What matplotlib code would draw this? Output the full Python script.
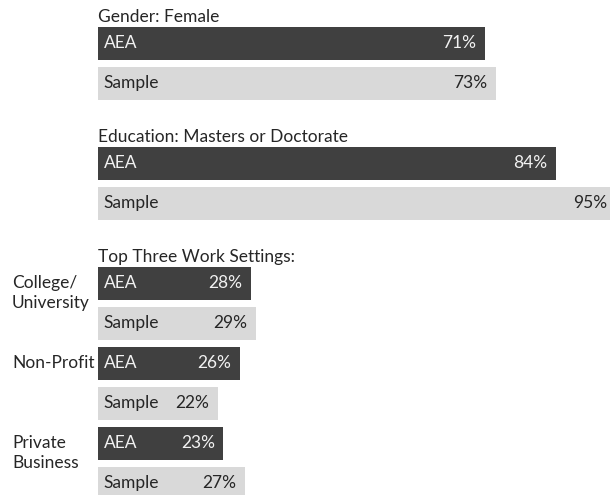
import matplotlib
matplotlib.use("Agg")
import matplotlib.pyplot as plt
from matplotlib.transforms import offset_copy

plt.rcParams['font.family'] = ['Lato', 'DejaVu Sans']

# data
headings = ["Gender: Female", "Education: Masters or Doctorate", "Top Three Work Settings:"]
series_names = ["AEA", "Sample"]
gender_values = [71, 73]
education_values = [84, 95]
settings = ["College/\nUniversity", "Non-Profit", "Private\nBusiness"]
settings_aea = [28, 26, 23]
settings_sample = [29, 22, 27]

dark = "#404040"
light = "#d9d9d9"
fs = 12.5

fig = plt.figure(figsize=(6.1, 4.95), dpi=100)
ax = fig.add_axes([98 / 610, 0, 545 / 610, 1])
ax.set_xlim(0, 100)
ax.set_ylim(11.2875, -1.0875)
ax.axis('off')

end_tr = offset_copy(ax.transData, fig=fig, x=-8.5, y=0, units='dots')
start_tr = offset_copy(ax.transData, fig=fig, x=5.5, y=0, units='dots')
label_tr = offset_copy(ax.transData, fig=fig, x=-86, y=0, units='dots')


def pair(row, vals):
    for i, (name, v) in enumerate(zip(series_names, vals)):
        r = row + i
        col = dark if i == 0 else light
        tc = "#f2f2f2" if i == 0 else "#262626"
        ax.barh(r, v, height=0.84, color=col, left=0)
        ax.text(0, r, name, transform=start_tr, ha='left', va='center',
                color=tc, fontsize=fs)
        ax.text(v, r, f"{v}%", transform=end_tr, ha='right', va='center',
                color=tc, fontsize=fs)


# rows: heading gap of one row between blocks
pair(0, gender_values)
pair(3, education_values)
for k, lab in enumerate(settings):
    r = 6 + 2 * k
    pair(r, [settings_aea[k], settings_sample[k]])
    for j, line in enumerate(lab.split("\n")):
        ax.text(0, r + 0.11 + 0.5 * j, line, transform=label_tr, ha='left',
                va='baseline', color="#262626", fontsize=fs)

for r, h in zip([0, 3, 6], headings):
    ax.text(0, r - 0.525, h, ha='left', va='baseline', color="#262626",
            fontsize=fs)

fig.savefig("out.png", dpi=100)
